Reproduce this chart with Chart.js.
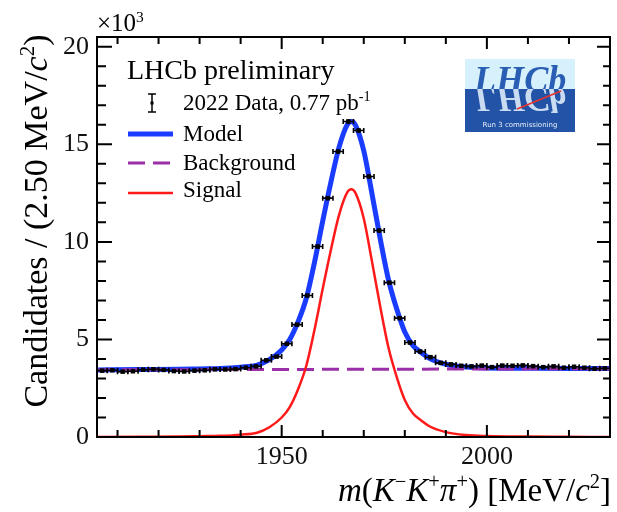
<!DOCTYPE html>
<html>
<head>
<meta charset="utf-8">
<script src="https://cdn.jsdelivr.net/npm/chart.js@4.4.1/dist/chart.umd.min.js"></script>
<style>
  html, body { margin: 0; padding: 0; background: #fff; }
  canvas { display: block; }
</style>
</head>
<body>
<canvas id="fit" width="617" height="512"></canvas>
<script>
// bin centres in MeV/c^2 (2.5 MeV bins)
const binCentres = [
  1906.25, 1908.75, 1911.25, 1913.75, 1916.25, 1918.75, 1921.25, 1923.75, 1926.25, 1928.75,
  1931.25, 1933.75, 1936.25, 1938.75, 1941.25, 1943.75, 1946.25, 1948.75, 1951.25, 1953.75,
  1956.25, 1958.75, 1961.25, 1963.75, 1966.25, 1968.75, 1971.25, 1973.75, 1976.25, 1978.75,
  1981.25, 1983.75, 1986.25, 1988.75, 1991.25, 1993.75, 1996.25, 1998.75, 2001.25, 2003.75,
  2006.25, 2008.75, 2011.25, 2013.75, 2016.25, 2018.75, 2021.25, 2023.75, 2026.25, 2028.75
];
// candidates per bin, x10^3
const dataCounts = [
  3.40, 3.42, 3.35, 3.37, 3.45, 3.47, 3.44, 3.38, 3.36, 3.40,
  3.42, 3.47, 3.46, 3.48, 3.55, 3.62, 3.93, 4.12, 4.78, 5.76,
  7.25, 9.76, 12.24, 14.63, 16.17, 15.71, 13.35, 10.58, 7.91, 6.09,
  4.84, 4.38, 4.09, 3.80, 3.72, 3.65, 3.62, 3.66, 3.58, 3.66,
  3.65, 3.67, 3.63, 3.58, 3.62, 3.55, 3.60, 3.55, 3.50, 3.52
];
const binHalfWidth = 1.25;

// fitted curves, x10^3
const curveMass = [1905, 1915, 1925, 1930, 1935, 1940, 1944, 1947, 1950, 1952, 1954, 1956, 1958, 1960,
  1962, 1964, 1966, 1967, 1968, 1970, 1972, 1974, 1976, 1978, 1980, 1982, 1984, 1986, 1990, 1995,
  2000, 2010, 2020, 2030];
const modelVals = [3.44, 3.46, 3.47, 3.49, 3.51, 3.58, 3.68, 3.96, 4.46, 5.01, 5.91, 7.11, 8.96, 11.07,
  13.07, 14.87, 16.02, 16.17, 15.97, 14.67, 12.47, 10.17, 8.08, 6.58, 5.38, 4.68, 4.33, 4.03, 3.73, 3.59,
  3.54, 3.52, 3.51, 3.51];
const signalVals = [0.0, 0.01, 0.02, 0.04, 0.06, 0.12, 0.22, 0.5, 1.0, 1.55, 2.45, 3.65, 5.5, 7.6,
  9.6, 11.4, 12.55, 12.7, 12.5, 11.2, 9.0, 6.7, 4.6, 3.1, 1.9, 1.2, 0.85, 0.55, 0.25, 0.1,
  0.05, 0.02, 0.01, 0.0];
const bkgMass = [1905, 2030];
const bkgVals = [3.44, 3.50];

const xTickLabels = [1950, 2000];
const yTickLabels = [0, 5, 10, 15, 20];

const SERIF = '"Liberation Serif", "DejaVu Serif", serif';
const BLUE = '#1a3cff';
const RED = '#ff1a1a';
const PURPLE = '#9b2fa8';

const pts = (xs, ys) => xs.map((x, i) => ({ x: x, y: ys[i] }));

// draw text made of pieces: [text, style] with style '', 'i' (italic) or 'sup'
function richText(ctx, parts, x, y, size, align) {
  const fontFor = p => (p[1] === 'i' ? 'italic ' : '') + (p[1] === 'sup' ? size * 0.62 : size) + 'px ' + SERIF;
  let w = 0;
  parts.forEach(p => { ctx.font = fontFor(p); w += ctx.measureText(p[0]).width; });
  let cx = align === 'right' ? x - w : align === 'center' ? x - w / 2 : x;
  ctx.textAlign = 'left';
  ctx.textBaseline = 'alphabetic';
  parts.forEach(p => {
    ctx.font = fontFor(p);
    const dy = p[1] === 'sup' ? -size * 0.38 : 0;
    ctx.fillText(p[0], cx, y + dy);
    cx += ctx.measureText(p[0]).width;
  });
}

const errorBars = {
  id: 'errorBars',
  afterDatasetsDraw(chart) {
    const { ctx, scales: { x, y } } = chart;
    ctx.save();
    ctx.strokeStyle = '#000';
    ctx.lineWidth = 1.6;
    binCentres.forEach((m, i) => {
      const v = dataCounts[i];
      const err = Math.sqrt(v * 1000) / 1000;
      const x0 = x.getPixelForValue(m - binHalfWidth);
      const x1 = x.getPixelForValue(m + binHalfWidth);
      const xc = x.getPixelForValue(m);
      const yc = y.getPixelForValue(v);
      ctx.beginPath();
      ctx.moveTo(x0, yc); ctx.lineTo(x1, yc);
      ctx.moveTo(x0, yc - 2.5); ctx.lineTo(x0, yc + 2.5);
      ctx.moveTo(x1, yc - 2.5); ctx.lineTo(x1, yc + 2.5);
      ctx.moveTo(xc, y.getPixelForValue(v - err)); ctx.lineTo(xc, y.getPixelForValue(v + err));
      ctx.stroke();
    });
    ctx.restore();
  }
};

const decorations = {
  id: 'decorations',
  afterDraw(chart) {
    const { ctx, chartArea: a, scales: { x, y } } = chart;
    ctx.save();
    ctx.fillStyle = '#000';
    ctx.strokeStyle = '#000';

    // frame and inward ticks on all four sides
    ctx.lineWidth = 2;
    ctx.strokeRect(a.left, a.top, a.right - a.left, a.bottom - a.top);
    ctx.beginPath();
    for (let m = 1910; m < 2030; m += 10) {
      const px = x.getPixelForValue(m);
      const len = m % 50 === 0 ? 12 : 7;
      ctx.moveTo(px, a.bottom); ctx.lineTo(px, a.bottom - len);
      ctx.moveTo(px, a.top); ctx.lineTo(px, a.top + len);
    }
    for (let v = 1; v <= 20; v += 1) {
      const py = y.getPixelForValue(v);
      const big = v % 5 === 0;
      ctx.moveTo(a.left, py); ctx.lineTo(a.left + (big ? 15 : 9), py);
      ctx.moveTo(a.right, py); ctx.lineTo(a.right - (big ? 13 : 7), py);
    }
    ctx.stroke();

    // axis titles
    richText(ctx, [['\u00d710', ''], ['3', 'sup']], 97, 31, 25, 'left');
    richText(ctx, [['m', 'i'], ['(', ''], ['K', 'i'], ['\u2212', 'sup'], ['K', 'i'], ['+', 'sup'],
      ['\u03c0', 'i'], ['+', 'sup'], [') [MeV/', ''], ['c', 'i'], ['2', 'sup'], [']', '']], 611, 501, 33, 'right');
    ctx.save();
    ctx.translate(47, 221);
    ctx.rotate(-Math.PI / 2);
    richText(ctx, [['Candidates / (2.50 MeV/', ''], ['c', 'i'], ['2', 'sup'], [')', '']], 0, 0, 34, 'center');
    ctx.restore();

    // legend
    richText(ctx, [['LHCb preliminary', '']], 127, 79, 28, 'left');
    richText(ctx, [['2022 Data, 0.77 pb', ''], ['-1', 'sup']], 183, 110, 23, 'left');
    richText(ctx, [['Model', '']], 183, 141, 23, 'left');
    richText(ctx, [['Background', '']], 183, 170, 23, 'left');
    richText(ctx, [['Signal', '']], 183, 197, 23, 'left');
    ctx.lineWidth = 1.5;
    ctx.beginPath();
    ctx.moveTo(152, 94); ctx.lineTo(152, 112);
    ctx.moveTo(148, 94); ctx.lineTo(156, 94);
    ctx.moveTo(148, 112); ctx.lineTo(156, 112);
    ctx.stroke();
    ctx.fillRect(150.5, 101.5, 3, 3);
    ctx.lineWidth = 5; ctx.strokeStyle = BLUE;
    ctx.beginPath(); ctx.moveTo(128, 134); ctx.lineTo(173, 134); ctx.stroke();
    ctx.lineWidth = 3; ctx.strokeStyle = PURPLE;
    ctx.setLineDash([17, 8]);
    ctx.beginPath(); ctx.moveTo(128, 163); ctx.lineTo(173, 163); ctx.stroke();
    ctx.setLineDash([]);
    ctx.lineWidth = 2.5; ctx.strokeStyle = RED;
    ctx.beginPath(); ctx.moveTo(128, 193); ctx.lineTo(173, 193); ctx.stroke();

    // LHCb logo
    ctx.fillStyle = '#d6f1fb';
    ctx.fillRect(465, 59, 110, 30);
    ctx.fillStyle = '#2353a6';
    ctx.fillRect(465, 89, 110, 43);
    ctx.save();
    ctx.beginPath(); ctx.rect(465, 59, 110, 30); ctx.clip();
    ctx.fillStyle = '#2a5db4';
    ctx.font = 'italic bold 38px ' + SERIF;
    ctx.textAlign = 'left'; ctx.textBaseline = 'alphabetic';
    ctx.save(); ctx.translate(474, 92); ctx.scale(0.95, 1); ctx.fillText('LHCb', 0, 0); ctx.restore();
    ctx.restore();
    ctx.save();
    ctx.beginPath(); ctx.rect(465, 89, 110, 25); ctx.clip();
    ctx.fillStyle = '#c9dcf2';
    ctx.font = 'italic bold 38px ' + SERIF;
    ctx.translate(474, 86); ctx.scale(0.95, -1); ctx.fillText('LHCb', 0, 0);
    ctx.restore();
    ctx.strokeStyle = '#e8322b'; ctx.lineWidth = 1.5;
    ctx.beginPath(); ctx.moveTo(517, 109); ctx.lineTo(561, 91); ctx.stroke();
    ctx.fillStyle = '#e6eefa';
    ctx.font = '7px "DejaVu Sans", sans-serif';
    ctx.textAlign = 'center';
    ctx.fillText('Run 3 commissioning', 520, 127);
    ctx.restore();
  }
};

new Chart(document.getElementById('fit'), {
  type: 'scatter',
  data: {
    datasets: [
      {
        label: 'Data',
        data: pts(binCentres, dataCounts),
        showLine: false,
        pointStyle: 'rect',
        pointRadius: 3.2,
        backgroundColor: '#000',
        borderColor: '#000',
        borderWidth: 0,
        order: 0
      },
      {
        label: 'Signal',
        data: pts(curveMass, signalVals),
        showLine: true,
        borderColor: RED,
        borderWidth: 2.5,
        pointRadius: 0,
        cubicInterpolationMode: 'monotone',
        order: 1
      },
      {
        label: 'Background',
        data: pts(bkgMass, bkgVals),
        showLine: true,
        borderColor: PURPLE,
        borderWidth: 3,
        borderDash: [17, 8],
        pointRadius: 0,
        order: 2
      },
      {
        label: 'Model',
        data: pts(curveMass, modelVals),
        showLine: true,
        borderColor: BLUE,
        borderWidth: 5,
        pointRadius: 0,
        cubicInterpolationMode: 'monotone',
        order: 3
      }
    ]
  },
  options: {
    responsive: false,
    animation: false,
    devicePixelRatio: 1,
    layout: { padding: { left: 0, right: 7, top: 37, bottom: 0 } },
    plugins: { legend: { display: false }, tooltip: { enabled: false } },
    scales: {
      x: {
        type: 'linear',
        min: 1905,
        max: 2030,
        grid: { display: false, drawTicks: false },
        border: { display: false },
        afterBuildTicks: s => { s.ticks = xTickLabels.map(v => ({ value: v })); },
        afterFit: s => { s.height = 75; },
        ticks: { padding: 5, color: '#111', font: { family: SERIF, size: 26 }, maxRotation: 0,
          callback: v => String(v) }
      },
      y: {
        type: 'linear',
        min: 0,
        max: 20.5,
        grid: { display: false, drawTicks: false },
        border: { display: false },
        afterBuildTicks: s => { s.ticks = yTickLabels.map(v => ({ value: v })); },
        afterFit: s => { s.width = 97; },
        ticks: { padding: 8, color: '#111', font: { family: SERIF, size: 26 }, callback: v => String(v) }
      }
    }
  },
  plugins: [errorBars, decorations]
});
</script>
</body>
</html>
